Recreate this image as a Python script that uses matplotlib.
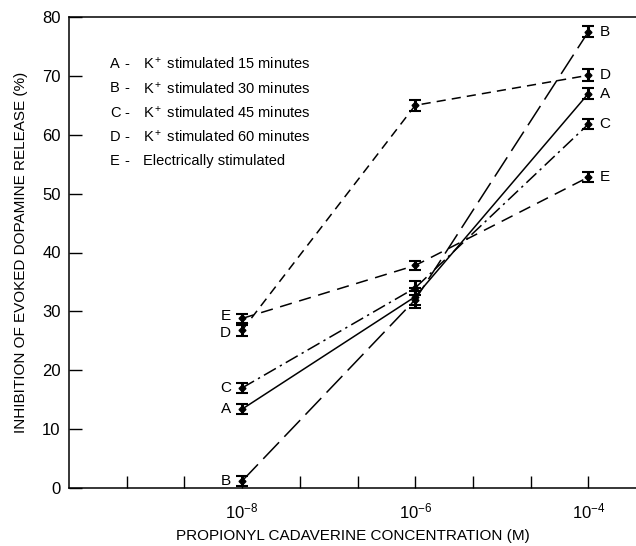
import numpy as np
import matplotlib
matplotlib.use("Agg")
import matplotlib.pyplot as plt
from matplotlib.ticker import FixedLocator, NullLocator

plt.rcParams['font.family'] = ['Liberation Sans', 'DejaVu Sans']
plt.rcParams['mathtext.fontset'] = 'custom'
plt.rcParams['mathtext.rm'] = 'Liberation Sans'
plt.rcParams['mathtext.it'] = 'Liberation Sans'

# concentraciones (M)
conc = [1e-8, 1e-6, 1e-4]

# inhibicion (%)
a_vals = [13.4, 32.5, 67.0]
b_vals = [1.2, 32.0, 77.5]
c_vals = [17.0, 34.0, 61.8]
d_vals = [26.8, 65.0, 70.1]
e_vals = [28.8, 37.8, 52.8]

a_err = [0.9, 1.5, 1.0]
b_err = [0.8, 1.5, 0.9]
c_err = [0.8, 1.2, 0.8]
d_err = [0.9, 0.9, 1.0]
e_err = [0.8, 0.7, 0.8]

series = ['A', 'B', 'C', 'D', 'E']
legend_txt = ['K$^+$ stimulated 15 minutes',
              'K$^+$ stimulated 30 minutes',
              'K$^+$ stimulated 45 minutes',
              'K$^+$ stimulated 60 minutes',
              'Electrically stimulated']

xticks_major = [1e-8, 1e-6, 1e-4]
xtick_labels = ['$10^{-8}$', '$10^{-6}$', '$10^{-4}$']
yticks = [0, 10, 20, 30, 40, 50, 60, 70, 80]

W, H = 636, 546
fig = plt.figure(figsize=(W / 100, H / 100), dpi=100)
ax = fig.add_axes([69 / W, 1 - 488 / H, (W - 69) / W, (488 - 17) / H])

estilos = {
    'A': '-',
    'B': (0, (15, 5)),
    'C': (0, (9, 3, 1.5, 3)),
    'D': (0, (6, 4)),
    'E': (0, (8, 5)),
}
# pequeño desplazamiento vertical de las letras de la izquierda (E y D se tocan)
dy_izq = {'A': 0, 'B': 0, 'C': 0, 'D': -2, 'E': 2}

vals = dict(zip(series, [a_vals, b_vals, c_vals, d_vals, e_vals]))
errs = dict(zip(series, [a_err, b_err, c_err, d_err, e_err]))

for s in series:
    ax.plot(conc, vals[s], color='black', lw=1.1, linestyle=estilos[s])
    ax.errorbar(conc, vals[s], yerr=errs[s], fmt='D', ms=3.5, color='black',
                ecolor='black', elinewidth=2.2, capsize=4, capthick=1.5)
    # letras a la izquierda y a la derecha
    ax.annotate(s, (conc[0], vals[s][0]), xytext=(-8, dy_izq[s]), textcoords='offset points',
                ha='right', va='center', fontsize=11)
    ax.annotate(s, (conc[-1], vals[s][-1]), xytext=(8, 0), textcoords='offset points',
                ha='left', va='center', fontsize=11)

ax.set_xscale('log')
ax.set_xlim(10**-10, 10**-3.45)
ax.set_ylim(0, 80)

todos = [10**(-10 + 2 * k / 3) for k in range(1, 10)]
etiquetas = []
for t in todos:
    lab = ''
    for m, l in zip(xticks_major, xtick_labels):
        if abs(np.log10(t) - np.log10(m)) < 0.01:
            lab = l
    etiquetas.append(lab)
ax.xaxis.set_major_locator(FixedLocator(todos))
ax.set_xticklabels(etiquetas)
ax.xaxis.set_minor_locator(NullLocator())
ax.set_yticks(yticks)
ax.tick_params(axis='both', direction='in', length=9, width=1, labelsize=12, color='black')
ax.tick_params(axis='x', pad=10)
ax.tick_params(axis='y', pad=6)

ax.spines['right'].set_visible(False)
for sp in ['left', 'bottom', 'top']:
    ax.spines[sp].set_linewidth(1.1)

ax.set_xlabel('PROPIONYL CADAVERINE CONCENTRATION (M)', fontsize=11, labelpad=5)
ax.set_ylabel('INHIBITION OF EVOKED DOPAMINE RELEASE (%)', fontsize=11, labelpad=10)

# leyenda a mano
for i, (s, t) in enumerate(zip(series, legend_txt)):
    y = 1 - (64 + i * 24.3) / H
    fig.text(110 / W, y, s, fontsize=10.5, va='center')
    fig.text(124 / W, y, '-', fontsize=10.5, va='center')
    fig.text(143 / W, y, t, fontsize=10.5, va='center')

fig.savefig('out.png', dpi=100)
